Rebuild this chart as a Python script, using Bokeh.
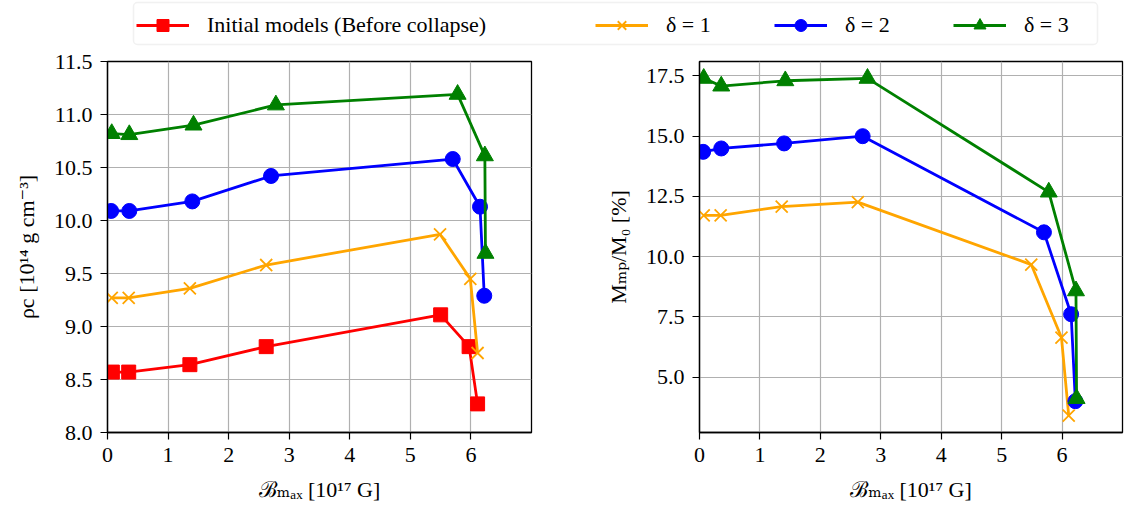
from bokeh.plotting import figure
from bokeh.layouts import column, row
from bokeh.models import (Range1d, FixedTicker, Legend, LegendItem, PrintfTickFormatter,
                          BoxAnnotation)
from bokeh.embed import file_html
from bokeh.resources import INLINE

# ---- data ----
B_init = [0.08, 0.35, 1.36, 2.62, 5.50, 5.97, 6.11]
rho_init = [8.57, 8.57, 8.64, 8.81, 9.11, 8.81, 8.27]

B_d1 = [0.07, 0.35, 1.36, 2.62, 5.49, 5.99, 6.11]
rho_d1 = [9.27, 9.27, 9.36, 9.58, 9.87, 9.45, 8.75]
mass_d1 = [11.71, 11.71, 12.08, 12.26, 9.67, 6.64, 3.40]

B_d2 = [0.06, 0.36, 1.40, 2.70, 5.70, 6.15, 6.22]
rho_d2 = [10.09, 10.09, 10.18, 10.42, 10.58, 10.13, 9.29]
mass_d2 = [14.35, 14.49, 14.70, 15.00, 11.01, 7.61, 4.00]

B_d3 = [0.07, 0.36, 1.42, 2.78, 5.78, 6.23, 6.24]
rho_d3 = [10.82, 10.81, 10.90, 11.09, 11.19, 10.61, 9.69]
mass_d3 = [17.40, 17.08, 17.30, 17.40, 12.68, 8.58, 4.11]

x_ticks = [0, 1, 2, 3, 4, 5, 6]
rho_ticks = [8.0, 8.5, 9.0, 9.5, 10.0, 10.5, 11.0, 11.5]
mass_ticks = [5.0, 7.5, 10.0, 12.5, 15.0, 17.5]

labels = ["Initial models (Before collapse)", "δ = 1", "δ = 2", "δ = 3"]
colors = ["red", "orange", "blue", "green"]
markers = ["square", "x", "circle", "triangle"]
msizes = [14, 17, 15, 17]

FONT = "'Liberation Serif', 'DejaVu Serif', serif"
FS = "22px"
LW = 2.8


def style(p, ylabel, yticks):
    p.xaxis.ticker = FixedTicker(ticks=x_ticks)
    p.yaxis.ticker = FixedTicker(ticks=yticks)
    p.yaxis.formatter = PrintfTickFormatter(format="%.1f")
    p.xaxis.axis_label = "ℬₘₐₓ [10¹⁷ G]"
    p.yaxis.axis_label = ylabel
    for ax in (p.xaxis, p.yaxis):
        ax.axis_label_text_font = FONT
        ax.axis_label_text_font_size = FS
        ax.axis_label_text_font_style = "normal"
        ax.axis_label_text_color = "black"
        ax.major_label_text_font = FONT
        ax.major_label_text_font_size = FS
        ax.major_label_text_color = "black"
        ax.major_tick_out = 7
        ax.major_tick_in = 0
        ax.minor_tick_out = 0
        ax.minor_tick_in = 0
        ax.major_tick_line_color = "black"
        ax.major_tick_line_width = 1.2
        ax.axis_line_color = "black"
        ax.axis_line_width = 1.3
        ax.major_label_standoff = 8
        ax.axis_label_standoff = 12
    p.grid.grid_line_color = "#b0b0b0"
    p.grid.grid_line_width = 1.2
    p.outline_line_color = "black"
    p.outline_line_width = 1.3
    p.background_fill_color = "white"
    p.border_fill_color = "white"


def add_marks(p, x, y, i):
    rl = p.line(x, y, line_color=colors[i], line_width=LW)
    if markers[i] == "x":
        rs = p.scatter(x, y, marker="x", size=msizes[i], line_color=colors[i], line_width=1.8)
    else:
        rs = p.scatter(x, y, marker=markers[i], size=msizes[i], fill_color=colors[i],
                       line_color=colors[i], line_width=1)
    return rl, rs


H = 462
p1 = figure(width=551, height=H, x_range=Range1d(0, 7), y_range=Range1d(8.0, 11.5),
            output_backend="svg", toolbar_location=None,
            min_border_left=107, min_border_right=20, min_border_top=11, min_border_bottom=80)
style(p1, "ρc [10¹⁴ g cm⁻³]", rho_ticks)
add_marks(p1, B_init, rho_init, 0)
add_marks(p1, B_d1, rho_d1, 1)
add_marks(p1, B_d2, rho_d2, 2)
add_marks(p1, B_d3, rho_d3, 3)

p2 = figure(width=575, height=H, x_range=Range1d(0, 7), y_range=Range1d(2.7, 18.1),
            output_backend="svg", toolbar_location=None,
            min_border_left=148, min_border_right=4, min_border_top=11, min_border_bottom=80)
style(p2, "Mₘₚ/M₀ [%]", mass_ticks)
add_marks(p2, B_d1, mass_d1, 1)
add_marks(p2, B_d2, mass_d2, 2)
add_marks(p2, B_d3, mass_d3, 3)

# ---- legend strip (frame spans the whole strip: data 0..1 <-> 0..1126 px, 0..50 px) ----
LW_PX, LH_PX = 1126, 50
lf = figure(width=LW_PX, height=LH_PX, x_range=Range1d(0, 1), y_range=Range1d(0, 1),
            output_backend="svg", toolbar_location=None,
            x_axis_location=None, y_axis_location=None, min_border=0)
lf.grid.visible = False
lf.outline_line_color = None

lf.add_layout(BoxAnnotation(left=133 / LW_PX, right=1097 / LW_PX,
                            top=1 - 2 / LH_PX, bottom=1 - 44 / LH_PX,
                            fill_color="white", fill_alpha=1,
                            line_color="#d0d0d0", line_width=1.5, border_radius=4))

items = []
for i in range(4):
    rl, rs = add_marks(lf, [-10, -9], [-10, -9], i)
    items.append(LegendItem(label=labels[i], renderers=[rl, rs]))

common = dict(orientation="horizontal", glyph_width=53, glyph_height=30, label_standoff=18,
              padding=6, margin=0, border_line_color=None, background_fill_alpha=0,
              label_text_font=FONT, label_text_font_size=FS, label_text_color="black")
leg_a = Legend(items=items[:1], location=(136, 10), spacing=0, **common)
leg_b = Legend(items=items[1:], location=(595, 10), spacing=52, label_width=56, **common)
lf.add_layout(leg_a)
lf.add_layout(leg_b)

layout = column(lf, row(p1, p2, spacing=0), spacing=0)
open("out.html", "w").write(file_html(layout, INLINE))
